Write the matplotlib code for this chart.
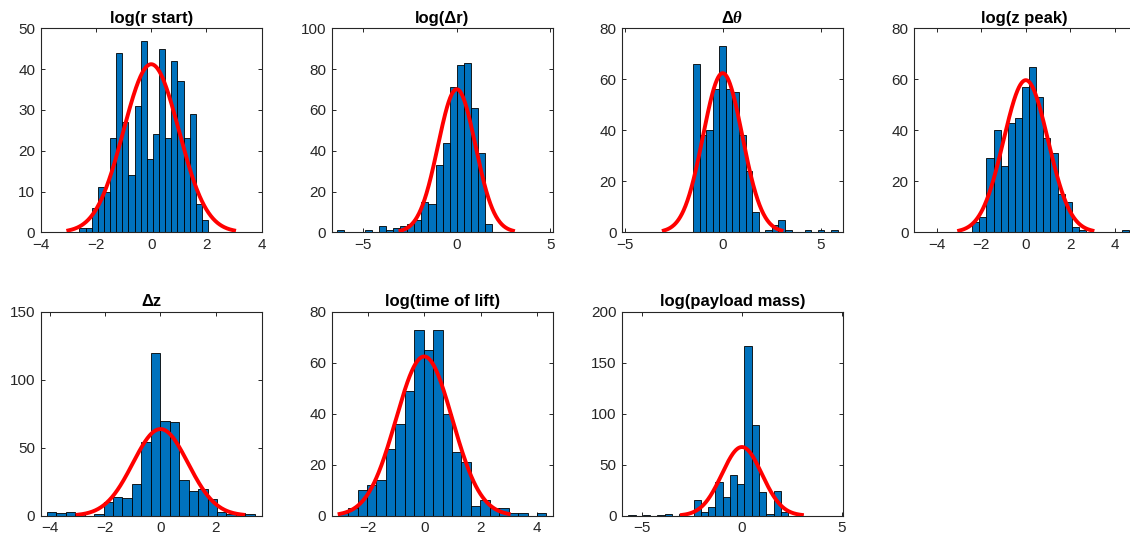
import numpy as np
import matplotlib
matplotlib.use("Agg")
import matplotlib.pyplot as plt

plt.rcParams['font.family'] = ['Liberation Sans', 'DejaVu Sans']
plt.rcParams['mathtext.fontset'] = 'custom'
plt.rcParams['mathtext.rm'] = 'Liberation Sans:bold'
plt.rcParams['mathtext.it'] = 'Liberation Serif:italic:bold'
plt.rcParams['mathtext.bf'] = 'Liberation Sans:bold'

titles = ['log(r start)', 'log(Δr)', r'$\Delta\theta$', 'log(z peak)',
          'Δz', 'log(time of lift)', 'log(payload mass)']

# histogram bins: left edge of first bin, bin width
bin_start = [-2.597, -6.40, -1.515, -2.414, -4.12, -3.035, -5.68]
bin_width = [0.2216, 0.3764, 0.335, 0.3202, 0.3427, 0.3352, 0.363]

counts_r_start = [1, 1, 6, 11, 10, 23, 44, 27, 14, 31, 47, 18, 24, 45, 23, 42, 37, 23, 29, 7, 3]
counts_dr = [1, 0, 0, 0, 1, 0, 3, 1, 2, 3, 4, 6, 15, 14, 33, 44, 71, 82, 83, 61, 39, 4]
counts_dtheta = [66, 38, 40, 56, 73, 56, 55, 38, 24, 8, 0, 1, 3, 5, 1, 0, 0, 1, 0, 1, 0, 1]
counts_z_peak = [4, 6, 29, 40, 26, 43, 45, 57, 65, 53, 37, 31, 15, 12, 2, 1, 0, 0, 0, 0, 0, 1]
counts_dz = [3, 2, 3, 1, 0, 1, 10, 14, 13, 23, 54, 120, 70, 69, 26, 18, 20, 12, 3, 1, 2, 1]
counts_lift = [1, 3, 10, 12, 14, 26, 36, 49, 73, 65, 73, 40, 25, 21, 4, 6, 3, 3, 1, 1, 0, 1]
counts_payload = [1, 0, 1, 0, 1, 2, 0, 2, 0, 15, 4, 9, 33, 18, 40, 31, 166, 89, 23, 2, 24, 4]
all_counts = [counts_r_start, counts_dr, counts_dtheta, counts_z_peak,
              counts_dz, counts_lift, counts_payload]

xlims = [(-4, 4), (-6.67, 5.12), (-5.13, 6.13), (-5.02, 4.93),
         (-4.34, 3.67), (-3.28, 4.56), (-5.98, 5.07)]
xticks = [[-4, -2, 0, 2, 4], [-5, 0, 5], [-5, 0, 5], [-4, -2, 0, 2, 4],
          [-4, -2, 0, 2], [-2, 0, 2, 4], [-5, 0, 5]]
ytops = [50, 100, 80, 80, 150, 80, 200]
ysteps = [10, 20, 20, 20, 50, 20, 50]

W, H = 1130, 545
fig = plt.figure(figsize=(W / 100, H / 100), dpi=100)

# axes boxes in pixels: left, top
lefts = [40.7, 331.7, 622.0, 914.3, 40.7, 331.7, 622.3]
tops = [28.3, 28.3, 28.3, 28.3, 311.7, 311.7, 311.7]
aw, ah = 221, 204

gray = '#262626'
for i in range(7):
    ax = fig.add_axes([lefts[i] / W, 1 - (tops[i] + ah) / H, aw / W, ah / H])
    counts = np.array(all_counts[i])
    bw = bin_width[i]
    edges = bin_start[i] + bw * np.arange(len(counts) + 1)
    ax.bar(edges[:-1], counts, width=bw, align='edge', color='#0072BD',
           edgecolor='black', linewidth=0.6, zorder=2)
    x = np.linspace(-3, 3, 300)
    y = counts.sum() * bw * np.exp(-x ** 2 / 2) / np.sqrt(2 * np.pi)
    ax.plot(x, y, color='red', lw=2.8, zorder=3)
    ax.set_xlim(*xlims[i])
    ax.set_ylim(0, ytops[i])
    ax.set_xticks(xticks[i])
    ax.set_yticks(np.arange(0, ytops[i] + 1, ysteps[i]))
    ax.tick_params(direction='in', top=True, right=True, length=3, width=0.7,
                   colors=gray, labelsize=11, pad=4)
    for s in ax.spines.values():
        s.set_color(gray)
        s.set_linewidth(0.8)
    ax.set_title(titles[i], fontsize=12, fontweight='bold', pad=4)

fig.savefig('out.png', dpi=100)
